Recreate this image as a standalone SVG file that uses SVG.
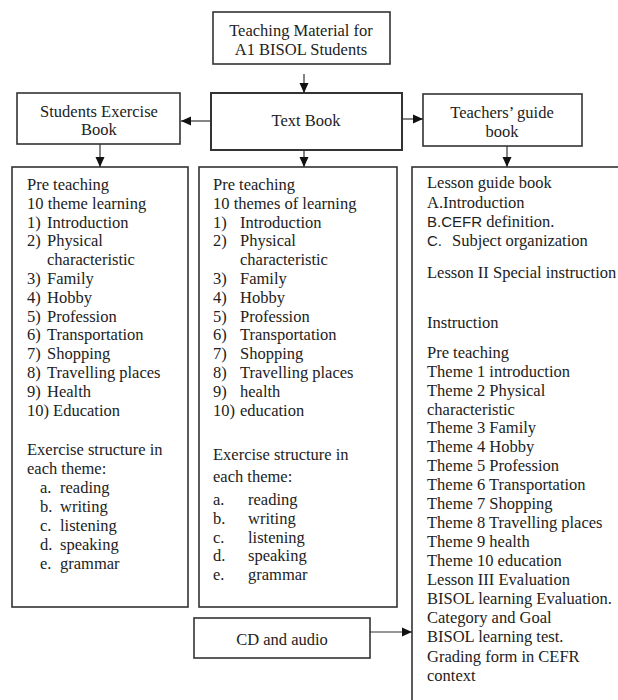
<svg xmlns="http://www.w3.org/2000/svg" width="618" height="700" viewBox="0 0 618 700">
<defs>
<style>
.box{fill:#fff;stroke:#333;stroke-width:1.6}
.t{font-family:"Liberation Serif","Times New Roman",serif;font-size:16.5px;fill:#222}
.c{text-anchor:middle}
.s{font-family:"Liberation Sans",Arial,sans-serif;font-size:15px}
.ln{stroke:#333;stroke-width:1.2;fill:none}
</style>
<marker id="ah" markerUnits="userSpaceOnUse" markerWidth="10" markerHeight="10" refX="10" refY="5" orient="auto">
<path d="M0,0.5 L10,5 L0,9.5 z" fill="#111"/>
</marker>
</defs>
<rect width="618" height="700" fill="#fff"/>

<g id="top">
<rect class="box" x="213" y="12" width="177" height="52"/>
<text class="t c" x="301" y="36">Teaching Material for</text>
<text class="t c" x="301" y="55">A1 BISOL Students</text>
</g>

<g id="textbook">
<rect class="box" x="211" y="93" width="191" height="57" style="stroke-width:2"/>
<text class="t c" x="306" y="126">Text Book</text>
</g>

<g id="students">
<rect class="box" x="17" y="93" width="163" height="51"/>
<text class="t c" x="99" y="117">Students Exercise</text>
<text class="t c" x="99" y="135">Book</text>
</g>

<g id="teachers">
<rect class="box" x="423" y="94" width="159" height="52"/>
<text class="t c" x="502" y="118">Teachers’ guide</text>
<text class="t c" x="502" y="137">book</text>
</g>

<g id="student-content">
<rect class="box" x="12" y="167" width="176" height="440"/>
<text class="t" x="27" y="190">Pre teaching</text>
<text class="t" x="27" y="208.8">10 theme learning</text>
<text class="t" x="27" y="227.6">1)</text><text class="t" x="47" y="227.6">Introduction</text>
<text class="t" x="27" y="246.4">2)</text><text class="t" x="47" y="246.4">Physical</text>
<text class="t" x="47" y="265.2">characteristic</text>
<text class="t" x="27" y="284">3)</text><text class="t" x="47" y="284">Family</text>
<text class="t" x="27" y="302.8">4)</text><text class="t" x="47" y="302.8">Hobby</text>
<text class="t" x="27" y="321.6">5)</text><text class="t" x="47" y="321.6">Profession</text>
<text class="t" x="27" y="340.4">6)</text><text class="t" x="47" y="340.4">Transportation</text>
<text class="t" x="27" y="359.2">7)</text><text class="t" x="47" y="359.2">Shopping</text>
<text class="t" x="27" y="378">8)</text><text class="t" x="47" y="378">Travelling places</text>
<text class="t" x="27" y="396.8">9)</text><text class="t" x="47" y="396.8">Health</text>
<text class="t" x="27" y="415.6">10) Education</text>
<text class="t" x="27" y="455">Exercise structure in</text>
<text class="t" x="27" y="474">each theme:</text>
<text class="t" x="40" y="493">a.</text><text class="t" x="60" y="493">reading</text>
<text class="t" x="40" y="512">b.</text><text class="t" x="60" y="512">writing</text>
<text class="t" x="40" y="531">c.</text><text class="t" x="60" y="531">listening</text>
<text class="t" x="40" y="550">d.</text><text class="t" x="60" y="550">speaking</text>
<text class="t" x="40" y="569">e.</text><text class="t" x="60" y="569">grammar</text>
</g>

<g id="textbook-content">
<rect class="box" x="199" y="167" width="198" height="440"/>
<text class="t" x="213" y="190">Pre teaching</text>
<text class="t" x="213" y="208.8">10 themes of learning</text>
<text class="t" x="213" y="227.6">1)</text><text class="t" x="240" y="227.6">Introduction</text>
<text class="t" x="213" y="246.4">2)</text><text class="t" x="240" y="246.4">Physical</text>
<text class="t" x="240" y="265.2">characteristic</text>
<text class="t" x="213" y="284">3)</text><text class="t" x="240" y="284">Family</text>
<text class="t" x="213" y="302.8">4)</text><text class="t" x="240" y="302.8">Hobby</text>
<text class="t" x="213" y="321.6">5)</text><text class="t" x="240" y="321.6">Profession</text>
<text class="t" x="213" y="340.4">6)</text><text class="t" x="240" y="340.4">Transportation</text>
<text class="t" x="213" y="359.2">7)</text><text class="t" x="240" y="359.2">Shopping</text>
<text class="t" x="213" y="378">8)</text><text class="t" x="240" y="378">Travelling places</text>
<text class="t" x="213" y="396.8">9)</text><text class="t" x="240" y="396.8">health</text>
<text class="t" x="213" y="415.6">10)</text><text class="t" x="240" y="415.6">education</text>
<text class="t" x="213" y="460">Exercise structure in</text>
<text class="t" x="213" y="482">each theme:</text>
<text class="t" x="213" y="505">a.</text><text class="t" x="248" y="505">reading</text>
<text class="t" x="213" y="524">b.</text><text class="t" x="248" y="524">writing</text>
<text class="t" x="213" y="543">c.</text><text class="t" x="248" y="543">listening</text>
<text class="t" x="213" y="561">d.</text><text class="t" x="248" y="561">speaking</text>
<text class="t" x="213" y="580">e.</text><text class="t" x="248" y="580">grammar</text>
</g>

<g id="teacher-content">
<rect class="box" x="412" y="167" width="220" height="560"/>
<text class="t" x="427" y="188">Lesson guide book</text>
<text class="t" x="427" y="208">A.Introduction</text>
<text class="t" x="427" y="227"><tspan class="s">B.CEFR</tspan> definition.</text>
<text class="t" x="427" y="246"><tspan class="s">C.</tspan></text><text class="t" x="452" y="246">Subject organization</text>
<text class="t" x="427" y="278">Lesson II Special instruction</text>
<text class="t" x="427" y="328">Instruction</text>
<text class="t" x="427" y="358">Pre teaching</text>
<text class="t" x="427" y="377">Theme 1 introduction</text>
<text class="t" x="427" y="396">Theme 2 Physical</text>
<text class="t" x="427" y="415">characteristic</text>
<text class="t" x="427" y="433">Theme 3 Family</text>
<text class="t" x="427" y="452">Theme 4 Hobby</text>
<text class="t" x="427" y="471">Theme 5 Profession</text>
<text class="t" x="427" y="490">Theme 6 Transportation</text>
<text class="t" x="427" y="509">Theme 7 Shopping</text>
<text class="t" x="427" y="528">Theme 8 Travelling places</text>
<text class="t" x="427" y="547">Theme 9 health</text>
<text class="t" x="427" y="566">Theme 10 education</text>
<text class="t" x="427" y="585">Lesson III Evaluation</text>
<text class="t" x="427" y="604">BISOL learning Evaluation.</text>
<text class="t" x="427" y="623">Category and Goal</text>
<text class="t" x="427" y="642">BISOL learning test.</text>
<text class="t" x="427" y="662">Grading form in CEFR</text>
<text class="t" x="427" y="681">context</text>
</g>

<g id="cd">
<rect class="box" x="194" y="618" width="176" height="40"/>
<text class="t c" x="282" y="645">CD and audio</text>
</g>

<g id="connectors">
<line class="ln" x1="304" y1="74" x2="304" y2="93" marker-end="url(#ah)"/>
<line class="ln" x1="211" y1="121" x2="181" y2="121" marker-end="url(#ah)"/>
<line class="ln" x1="402" y1="119" x2="423" y2="119" marker-end="url(#ah)"/>
<line class="ln" x1="100" y1="144" x2="100" y2="167" marker-end="url(#ah)"/>
<line class="ln" x1="304" y1="150" x2="304" y2="167" marker-end="url(#ah)"/>
<line class="ln" x1="507" y1="146" x2="507" y2="167" marker-end="url(#ah)"/>
<line class="ln" x1="370" y1="632" x2="412" y2="632" marker-end="url(#ah)"/>
</g>
</svg>
